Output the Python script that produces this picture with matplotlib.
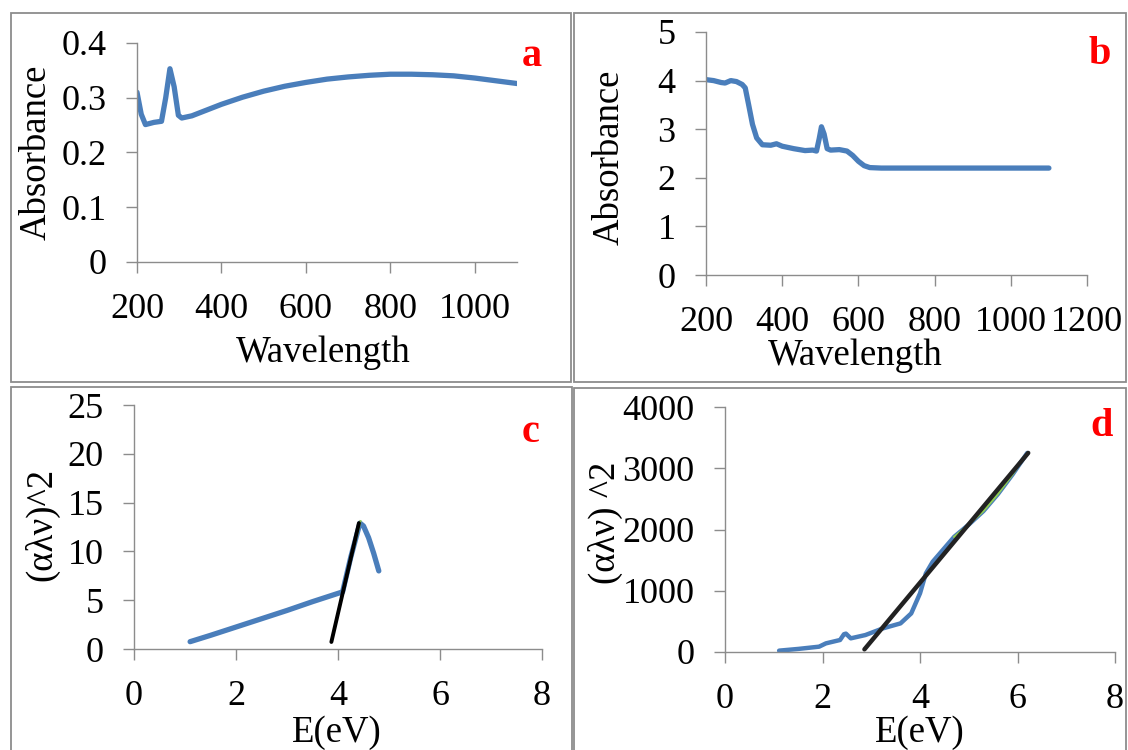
import numpy as np
import matplotlib.pyplot as plt
from matplotlib.patches import Rectangle

# panel a: absorbance vs wavelength
wl_a = [200, 210, 220, 240, 258, 268, 278, 288, 298, 306, 330, 360, 400, 450, 500, 550,
        600, 650, 700, 750, 800, 850, 900, 950, 1000, 1050, 1100]
abs_a = [0.310, 0.270, 0.251, 0.255, 0.257, 0.300, 0.353, 0.320, 0.268, 0.263, 0.267, 0.276,
         0.288, 0.301, 0.312, 0.321, 0.328, 0.334, 0.338, 0.341, 0.343, 0.343, 0.342, 0.340,
         0.336, 0.331, 0.326]

# panel b
wl_b = [200, 220, 240, 250, 265, 280, 295, 303, 312, 322, 333, 348, 370, 385, 400, 430,
        460, 480, 490, 497, 503, 510, 518, 527, 550, 570, 585, 600, 615, 630, 660, 700, 800,
        900, 1000, 1100]
abs_b = [4.02, 4.00, 3.96, 3.95, 4.00, 3.98, 3.92, 3.85, 3.50, 3.10, 2.82, 2.68, 2.67,
         2.70, 2.65, 2.60, 2.56, 2.57, 2.55, 2.80, 3.05, 2.90, 2.60, 2.57, 2.58, 2.55, 2.46,
         2.34, 2.25, 2.21, 2.20, 2.20, 2.20, 2.20, 2.20, 2.20]

# panel c: Tauc plot
e_c = [1.1, 1.5, 2.0, 2.5, 3.0, 3.5, 4.0, 4.09, 4.25, 4.43, 4.5, 4.6, 4.7, 4.8]
t_c = [0.75, 1.4, 2.25, 3.1, 3.95, 4.85, 5.7, 5.85, 9.4, 12.9, 12.6, 11.4, 9.8, 8.0]
green_c_e = [4.15, 4.44]
green_c_t = [7.1, 13.1]
fit_c_e = [3.87, 4.41]
fit_c_t = [0.72, 12.9]

# panel d
e_d = [1.11, 1.5, 1.93, 2.07, 2.36, 2.44, 2.48, 2.58, 2.88, 3.24, 3.6, 3.82, 4.0, 4.12,
       4.26, 4.7, 5.0, 5.3, 5.6, 5.9, 6.2]
t_d = [22, 50, 87, 141, 196, 290, 300, 223, 277, 386, 467, 630, 957, 1283, 1473, 1880,
       2080, 2300, 2580, 2900, 3250]
green_d_e = [4.7, 5.0, 5.3, 5.6, 5.9, 6.2]
green_d_t = [1880, 2080, 2300, 2580, 2900, 3250]
fit_d_e = [2.86, 6.22]
fit_d_t = [43, 3250]

W, H = 1128, 750
BLUE = "#4a7ebb"
GRAY = "#8c8c8c"
TICK_FS = 26
LAB_FS = 26.5
plt.rcParams["font.family"] = ["Liberation Serif", "DejaVu Serif"]

fig = plt.figure(figsize=(W / 100, H / 100), dpi=100)


def px_axes(x0, y0, x1, y1):
    # pixel box (left, top, right, bottom) -> axes
    return fig.add_axes([x0 / W, 1 - y1 / H, (x1 - x0) / W, (y1 - y0) / H])


def ftext(x, y, s, **kw):
    fig.text(x / W, 1 - y / H, s, ha="center", va="center", **kw)


# panel frames
for (x0, y0, x1, y1) in [(11, 13, 571, 382), (574, 13, 1126, 382),
                         (11, 387, 572, 760), (574, 388, 1126, 760)]:
    fig.patches.append(Rectangle((x0 / W, 1 - y1 / H), (x1 - x0) / W, (y1 - y0) / H,
                                 transform=fig.transFigure, fill=False,
                                 edgecolor=GRAY, lw=1.3))


def style(ax):
    for s in ["top", "right"]:
        ax.spines[s].set_visible(False)
    for s in ["left", "bottom"]:
        ax.spines[s].set_color(GRAY)
        ax.spines[s].set_linewidth(1.0)
    ax.tick_params(colors=GRAY, labelcolor="black", labelsize=TICK_FS, length=8, width=1.0, pad=14)
    ax.set_facecolor("none")


ax_a = px_axes(137, 43, 517, 262)
ax_a.plot(wl_a, abs_a, color=BLUE, lw=3.8, solid_capstyle="round")
ax_a.set_xlim(200, 1100)
ax_a.set_ylim(0, 0.4)
ax_a.set_xticks([200, 400, 600, 800, 1000])
ax_a.set_yticks([0, 0.1, 0.2, 0.3, 0.4])
ax_a.set_yticklabels(["0", "0.1", "0.2", "0.3", "0.4"])
style(ax_a)
ftext(323, 353, "Wavelength", fontsize=LAB_FS)
ftext(36, 152, "Absorbance", fontsize=LAB_FS, rotation=90)
ftext(532, 56, "a", fontsize=29, color="red", fontweight="bold")

ax_b = px_axes(706, 32, 1087, 275)
ax_b.plot(wl_b, abs_b, color=BLUE, lw=3.8, solid_capstyle="round")
ax_b.set_xlim(200, 1200)
ax_b.set_ylim(0, 5)
ax_b.set_xticks([200, 400, 600, 800, 1000, 1200])
ax_b.set_yticks([0, 1, 2, 3, 4, 5])
style(ax_b)
ftext(855, 356, "Wavelength", fontsize=LAB_FS)
ftext(609, 157, "Absorbance", fontsize=LAB_FS, rotation=90)
ftext(1100, 54, "b", fontsize=29, color="red", fontweight="bold")

ax_c = px_axes(134, 405, 542, 649)
ax_c.plot(e_c, t_c, color=BLUE, lw=3.8, solid_capstyle="round")
ax_c.plot(green_c_e, green_c_t, color="#92d050", lw=1.5)
ax_c.plot(fit_c_e, fit_c_t, color="black", lw=2.8, solid_capstyle="round")
ax_c.set_xlim(0, 8)
ax_c.set_ylim(0, 25)
ax_c.set_xticks([0, 2, 4, 6, 8])
ax_c.set_yticks([0, 5, 10, 15, 20, 25])
style(ax_c)
ftext(337, 733, "E(eV)", fontsize=LAB_FS)
ftext(42, 524, "(αλν)^2", fontsize=LAB_FS, rotation=90)
ftext(531, 433, "c", fontsize=29, color="red", fontweight="bold")

ax_d = px_axes(725, 407, 1115, 652)
ax_d.plot(e_d, t_d, color=BLUE, lw=3.2, solid_capstyle="round")
ax_d.plot(green_d_e, green_d_t, color="#92d050", lw=1.5)
ax_d.plot(fit_d_e, fit_d_t, color="#222222", lw=3.2, solid_capstyle="round")
ax_d.set_xlim(0, 8)
ax_d.set_ylim(0, 4000)
ax_d.set_xticks([0, 2, 4, 6, 8])
ax_d.set_yticks([0, 1000, 2000, 3000, 4000])
style(ax_d)
ftext(920, 733, "E(eV)", fontsize=LAB_FS)
ftext(605, 523, "(αλν) ^2", fontsize=LAB_FS, rotation=90)
ftext(1102, 427, "d", fontsize=29, color="red", fontweight="bold")

fig.savefig("out.png", dpi=100)
